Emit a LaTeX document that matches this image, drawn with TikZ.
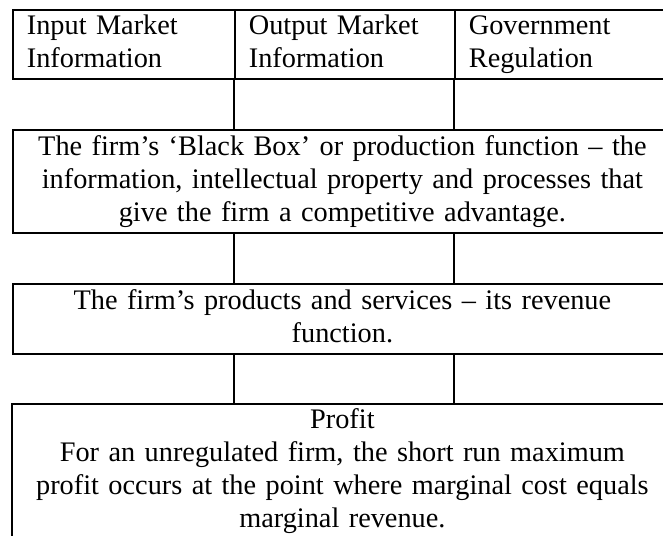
\documentclass[tikz,border=0pt]{standalone}
\usepackage{fontspec}
\setmainfont{Liberation Serif}
\newcommand{\cellfont}{\fontsize{28.3}{33}\selectfont}

\begin{document}
\begin{tikzpicture}[x=1pt, y=-1pt,
  rule/.style={line width=1.8pt},
  struts/.style={execute at begin node=\strut, execute at end node=\strut},
  headcell/.style={draw, rule, struts, anchor=north west, align=left, font=\cellfont,
    inner xsep=14pt, inner ysep=0pt, minimum height=69pt},
  bodybox/.style={rule, struts, anchor=north west, align=center, font=\cellfont,
    inner xsep=8pt, inner ysep=0pt, minimum width=659pt, text width=643pt}]
  \useasboundingbox (0,0) rectangle (663,535);
  \clip (0,0) rectangle (663,535);

  % Top row: the three outside influences
  \node[headcell, text width=194pt, minimum width=222pt] (inmkt) at (12,9) {Input Market\\Information};
  \node[headcell, text width=192pt, minimum width=220pt] (outmkt) at (234,9) {Output Market\\Information};
  \node[headcell, text width=189pt, minimum width=217pt] (govreg) at (454,9) {Government\\Regulation};

  % Production function
  \node[bodybox, draw, minimum height=103pt] (blackbox) at (12,129)
    {The firm’s ‘Black Box’ or production function – the\\information, intellectual property and processes that\\give the firm a competitive advantage.};

  % Revenue function
  \node[bodybox, draw, minimum height=70pt] (revenue) at (12,283)
    {The firm’s products and services – its revenue\\function.};

  % Profit, frame runs on past the bottom edge
  \node[bodybox, minimum height=132pt] (profit) at (12,404)
    {Profit\\For an unregulated firm, the short run maximum\\profit occurs at the point where marginal cost equals\\marginal revenue.};
  \coordinate (cutoff) at (671,570);
  \draw[rule] (profit.north west) rectangle (cutoff);

  % Column rules between the boxes
  \foreach \col in {outmkt, govreg} {
    \draw[rule] (\col.south west) -- (\col.south west |- blackbox.north);
    \draw[rule] (\col.south west |- blackbox.south) -- (\col.south west |- revenue.north);
    \draw[rule] (\col.south west |- revenue.south) -- (\col.south west |- profit.north);
  }
\end{tikzpicture}
\end{document}
